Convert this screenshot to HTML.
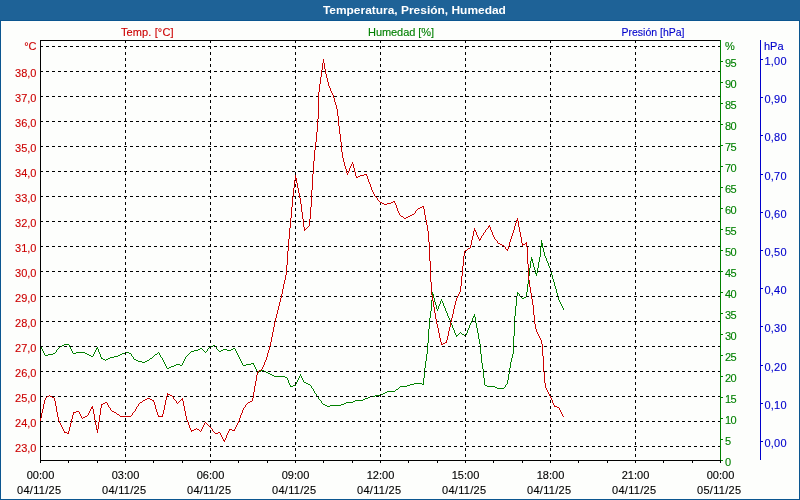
<!DOCTYPE html>
<html lang="es"><head><meta charset="utf-8"><title>Temperatura, Presión, Humedad</title>
<style>
html,body{margin:0;padding:0;background:#fff;}
body{width:800px;height:500px;overflow:hidden;}
svg{display:block;}
text{font-family:"Liberation Sans",Arial,sans-serif;font-size:11px;}
.t{font-weight:bold;fill:#fff;}
.r{fill:#cc0000;stroke:#cc0000}.g{fill:#008000;stroke:#008000}.b{fill:#0000cc;stroke:#0000cc}.k{fill:#000;stroke:#000}
.r,.g,.b,.k{stroke-width:.12px}
.ce{shape-rendering:crispEdges}
</style></head><body>
<svg width="800" height="500" viewBox="0 0 800 500">
<rect x="0" y="0" width="800" height="500" fill="#0b5690"/>
<rect x="0" y="0" width="800" height="20" fill="#1e6297"/>
<rect x="1" y="21" width="798" height="478" fill="#fdfefc"/>
<text class="t" x="414.4" y="14" text-anchor="middle" textLength="183" lengthAdjust="spacingAndGlyphs">Temperatura, Presión, Humedad</text>
<text class="r" x="121" y="36" textLength="52.5">Temp. [°C]</text>
<text class="g" x="368" y="36" textLength="66">Humedad [%]</text>
<text class="b" x="621.5" y="36" textLength="63" lengthAdjust="spacingAndGlyphs">Presión [hPa]</text>

<path class="ce" fill="#008000" d="M41 347h1v2h-1zM42 349h1v2h-1zM43 351h1v2h-1zM44 353h1v2h-1zM56 350h1v2h-1zM69 345h1v2h-1zM70 347h1v2h-1zM71 349h1v2h-1zM72 351h1v2h-1zM93 354h1v2h-1zM94 352h1v2h-1zM95 350h1v2h-1zM96 348h1v2h-1zM97 347h1v2h-1zM98 349h1v3h-1zM99 352h1v2h-1zM100 354h1v3h-1zM101 357h1v2h-1zM131 354h1v2h-1zM133 357h1v2h-1zM159 353h1v2h-1zM160 355h1v2h-1zM162 358h1v2h-1zM163 360h1v2h-1zM164 362h1v2h-1zM165 364h1v2h-1zM166 366h1v2h-1zM182 363h1v2h-1zM183 361h1v2h-1zM184 359h1v2h-1zM185 357h1v2h-1zM207 349h1v2h-1zM216 347h1v2h-1zM235 349h1v2h-1zM236 351h1v2h-1zM237 353h1v2h-1zM238 355h1v2h-1zM239 357h1v2h-1zM240 359h1v2h-1zM241 361h1v2h-1zM242 363h1v2h-1zM253 363h1v2h-1zM254 365h1v2h-1zM255 367h1v2h-1zM256 369h1v2h-1zM257 371h1v2h-1zM287 378h1v2h-1zM288 380h1v3h-1zM289 383h1v2h-1zM290 385h1v2h-1zM295 384h1v2h-1zM296 382h1v2h-1zM297 380h1v2h-1zM298 378h1v2h-1zM299 376h1v2h-1zM300 374h1v2h-1zM301 376h1v2h-1zM302 378h1v2h-1zM303 380h1v2h-1zM311 386h1v2h-1zM313 389h1v2h-1zM314 391h1v2h-1zM316 394h1v2h-1zM318 397h1v2h-1zM321 401h1v2h-1zM423 378h1v7h-1zM424 368h1v10h-1zM425 361h1v7h-1zM426 354h1v7h-1zM427 343h1v11h-1zM428 329h1v14h-1zM429 318h1v11h-1zM430 311h1v7h-1zM431 300h1v11h-1zM432 292h1v8h-1zM433 294h1v4h-1zM434 298h1v4h-1zM435 302h1v3h-1zM436 305h1v4h-1zM437 309h1v2h-1zM438 306h1v3h-1zM439 304h1v2h-1zM440 301h1v3h-1zM441 299h1v2h-1zM442 301h1v2h-1zM443 303h1v3h-1zM444 306h1v2h-1zM445 308h1v3h-1zM446 311h1v2h-1zM447 313h1v3h-1zM448 316h1v2h-1zM449 318h1v2h-1zM450 320h1v3h-1zM451 323h1v2h-1zM452 325h1v3h-1zM453 328h1v2h-1zM454 330h1v3h-1zM455 333h1v2h-1zM456 335h1v2h-1zM465 335h1v2h-1zM466 333h1v2h-1zM467 330h1v3h-1zM468 328h1v2h-1zM469 325h1v3h-1zM470 323h1v2h-1zM471 321h1v2h-1zM472 318h1v3h-1zM473 316h1v2h-1zM474 314h1v3h-1zM475 317h1v6h-1zM476 323h1v5h-1zM477 328h1v5h-1zM478 333h1v6h-1zM479 339h1v5h-1zM480 344h1v10h-1zM481 354h1v9h-1zM482 363h1v6h-1zM483 369h1v9h-1zM484 378h1v7h-1zM505 385h1v2h-1zM507 380h1v4h-1zM508 374h1v6h-1zM509 368h1v6h-1zM510 362h1v6h-1zM511 358h1v4h-1zM512 354h1v4h-1zM513 336h1v18h-1zM514 316h1v20h-1zM515 306h1v10h-1zM516 296h1v10h-1zM517 292h1v4h-1zM519 294h1v2h-1zM526 292h1v5h-1zM527 284h1v8h-1zM528 276h1v8h-1zM529 268h1v8h-1zM530 261h1v7h-1zM531 257h1v4h-1zM532 259h1v4h-1zM533 263h1v4h-1zM534 267h1v3h-1zM535 270h1v4h-1zM536 273h1v3h-1zM537 268h1v5h-1zM538 262h1v6h-1zM539 257h1v5h-1zM540 247h1v10h-1zM541 240h1v7h-1zM542 243h1v5h-1zM543 248h1v4h-1zM544 252h1v4h-1zM545 256h1v2h-1zM546 258h1v3h-1zM547 261h1v2h-1zM548 263h1v3h-1zM549 266h1v2h-1zM550 268h1v3h-1zM551 271h1v4h-1zM552 275h1v4h-1zM553 279h1v3h-1zM554 282h1v4h-1zM555 286h1v3h-1zM556 289h1v4h-1zM557 293h1v4h-1zM558 297h1v3h-1zM559 300h1v2h-1zM560 302h1v2h-1zM561 304h1v2h-1zM562 306h1v2h-1zM563 308h1v2h-1zM518 293h1v1h-1zM520 296h1v1h-1zM521 297h1v1h-1zM524 297h2v1h-2zM522 298h2v1h-2zM460 332h1v1h-1zM459 333h1v1h-1zM461 333h1v1h-1zM458 334h1v1h-1zM462 334h2v1h-2zM457 335h1v1h-1zM464 335h1v1h-1zM64 344h5v1h-5zM62 345h2v1h-2zM213 345h2v1h-2zM40 346h1v1h-1zM60 346h2v1h-2zM210 346h3v1h-3zM215 346h1v1h-1zM59 347h1v1h-1zM209 347h1v1h-1zM58 348h1v1h-1zM200 348h2v1h-2zM208 348h1v1h-1zM233 348h2v1h-2zM57 349h1v1h-1zM198 349h2v1h-2zM202 349h1v1h-1zM217 349h1v1h-1zM223 349h4v1h-4zM231 349h2v1h-2zM194 350h4v1h-4zM203 350h1v1h-1zM218 350h1v1h-1zM221 350h2v1h-2zM227 350h4v1h-4zM191 351h3v1h-3zM204 351h1v1h-1zM206 351h1v1h-1zM219 351h2v1h-2zM55 352h1v1h-1zM76 352h9v1h-9zM125 352h4v1h-4zM158 352h1v1h-1zM190 352h1v1h-1zM205 352h1v1h-1zM53 353h2v1h-2zM73 353h3v1h-3zM85 353h2v1h-2zM122 353h3v1h-3zM129 353h2v1h-2zM157 353h1v1h-1zM189 353h1v1h-1zM48 354h5v1h-5zM87 354h2v1h-2zM120 354h2v1h-2zM155 354h2v1h-2zM188 354h1v1h-1zM45 355h3v1h-3zM89 355h2v1h-2zM118 355h2v1h-2zM154 355h1v1h-1zM187 355h1v1h-1zM91 356h2v1h-2zM114 356h4v1h-4zM132 356h1v1h-1zM153 356h1v1h-1zM186 356h1v1h-1zM110 357h4v1h-4zM152 357h1v1h-1zM161 357h1v1h-1zM102 358h1v1h-1zM108 358h2v1h-2zM150 358h2v1h-2zM103 359h2v1h-2zM106 359h2v1h-2zM134 359h2v1h-2zM149 359h1v1h-1zM105 360h1v1h-1zM136 360h2v1h-2zM147 360h2v1h-2zM138 361h4v1h-4zM145 361h2v1h-2zM142 362h3v1h-3zM251 363h2v1h-2zM176 364h4v1h-4zM246 364h5v1h-5zM174 365h2v1h-2zM180 365h2v1h-2zM243 365h3v1h-3zM171 366h3v1h-3zM169 367h2v1h-2zM167 368h2v1h-2zM261 370h3v1h-3zM259 371h2v1h-2zM264 371h2v1h-2zM258 372h1v1h-1zM266 372h2v1h-2zM268 373h2v1h-2zM270 374h2v1h-2zM272 375h2v1h-2zM274 376h11v1h-11zM285 377h2v1h-2zM304 382h2v1h-2zM306 383h2v1h-2zM414 383h8v1h-8zM308 384h2v1h-2zM410 384h4v1h-4zM422 384h1v1h-1zM506 384h1v1h-1zM293 385h2v1h-2zM310 385h1v1h-1zM407 385h3v1h-3zM485 385h2v1h-2zM291 386h2v1h-2zM400 386h7v1h-7zM487 386h8v1h-8zM399 387h1v1h-1zM495 387h2v1h-2zM504 387h1v1h-1zM312 388h1v1h-1zM398 388h1v1h-1zM497 388h7v1h-7zM396 389h2v1h-2zM395 390h1v1h-1zM387 391h8v1h-8zM385 392h2v1h-2zM315 393h1v1h-1zM383 393h2v1h-2zM380 394h3v1h-3zM375 395h5v1h-5zM317 396h1v1h-1zM370 396h5v1h-5zM368 397h2v1h-2zM365 398h3v1h-3zM319 399h1v1h-1zM363 399h2v1h-2zM320 400h1v1h-1zM355 400h8v1h-8zM353 401h2v1h-2zM346 402h7v1h-7zM322 403h1v1h-1zM344 403h2v1h-2zM323 404h2v1h-2zM341 404h3v1h-3zM325 405h2v1h-2zM330 405h11v1h-11zM327 406h3v1h-3z"/>
<g class="ce" fill="none" stroke="#000" stroke-width="1">
<g stroke-dasharray="3 3">
<line x1="40" y1="46.5" x2="720" y2="46.5"/>
<line x1="40" y1="71.5" x2="720" y2="71.5"/>
<line x1="40" y1="96.5" x2="720" y2="96.5"/>
<line x1="40" y1="121.5" x2="720" y2="121.5"/>
<line x1="40" y1="146.5" x2="720" y2="146.5"/>
<line x1="40" y1="171.5" x2="720" y2="171.5"/>
<line x1="40" y1="196.5" x2="720" y2="196.5"/>
<line x1="40" y1="221.5" x2="720" y2="221.5"/>
<line x1="40" y1="246.5" x2="720" y2="246.5"/>
<line x1="40" y1="271.5" x2="720" y2="271.5"/>
<line x1="40" y1="296.5" x2="720" y2="296.5"/>
<line x1="40" y1="321.5" x2="720" y2="321.5"/>
<line x1="40" y1="346.5" x2="720" y2="346.5"/>
<line x1="40" y1="371.5" x2="720" y2="371.5"/>
<line x1="40" y1="396.5" x2="720" y2="396.5"/>
<line x1="40" y1="421.5" x2="720" y2="421.5"/>
<line x1="40" y1="446.5" x2="720" y2="446.5"/>
<line x1="125.5" y1="40" x2="125.5" y2="460"/>
<line x1="210.5" y1="40" x2="210.5" y2="460"/>
<line x1="295.5" y1="40" x2="295.5" y2="460"/>
<line x1="380.5" y1="40" x2="380.5" y2="460"/>
<line x1="465.5" y1="40" x2="465.5" y2="460"/>
<line x1="550.5" y1="40" x2="550.5" y2="460"/>
<line x1="635.5" y1="40" x2="635.5" y2="460"/>
</g>
<line x1="40" y1="40.5" x2="721" y2="40.5"/>
<line x1="40.5" y1="40" x2="40.5" y2="461"/>
<line x1="40" y1="460.5" x2="721" y2="460.5"/>
<line x1="40.5" y1="461" x2="40.5" y2="463"/>
<line x1="68.5" y1="461" x2="68.5" y2="463"/>
<line x1="97.5" y1="461" x2="97.5" y2="463"/>
<line x1="125.5" y1="461" x2="125.5" y2="463"/>
<line x1="153.5" y1="461" x2="153.5" y2="463"/>
<line x1="182.5" y1="461" x2="182.5" y2="463"/>
<line x1="210.5" y1="461" x2="210.5" y2="463"/>
<line x1="238.5" y1="461" x2="238.5" y2="463"/>
<line x1="267.5" y1="461" x2="267.5" y2="463"/>
<line x1="295.5" y1="461" x2="295.5" y2="463"/>
<line x1="323.5" y1="461" x2="323.5" y2="463"/>
<line x1="352.5" y1="461" x2="352.5" y2="463"/>
<line x1="380.5" y1="461" x2="380.5" y2="463"/>
<line x1="408.5" y1="461" x2="408.5" y2="463"/>
<line x1="437.5" y1="461" x2="437.5" y2="463"/>
<line x1="465.5" y1="461" x2="465.5" y2="463"/>
<line x1="493.5" y1="461" x2="493.5" y2="463"/>
<line x1="522.5" y1="461" x2="522.5" y2="463"/>
<line x1="550.5" y1="461" x2="550.5" y2="463"/>
<line x1="578.5" y1="461" x2="578.5" y2="463"/>
<line x1="607.5" y1="461" x2="607.5" y2="463"/>
<line x1="635.5" y1="461" x2="635.5" y2="463"/>
<line x1="663.5" y1="461" x2="663.5" y2="463"/>
<line x1="692.5" y1="461" x2="692.5" y2="463"/>
<line x1="720.5" y1="461" x2="720.5" y2="463"/>
</g>
<g class="ce" fill="none" stroke="#008000" stroke-width="1">
<line x1="720.5" y1="40" x2="720.5" y2="460"/>
<line x1="721" y1="460.5" x2="723" y2="460.5"/>
<line x1="721" y1="439.5" x2="723" y2="439.5"/>
<line x1="721" y1="418.5" x2="723" y2="418.5"/>
<line x1="721" y1="397.5" x2="723" y2="397.5"/>
<line x1="721" y1="376.5" x2="723" y2="376.5"/>
<line x1="721" y1="355.5" x2="723" y2="355.5"/>
<line x1="721" y1="334.5" x2="723" y2="334.5"/>
<line x1="721" y1="313.5" x2="723" y2="313.5"/>
<line x1="721" y1="292.5" x2="723" y2="292.5"/>
<line x1="721" y1="271.5" x2="723" y2="271.5"/>
<line x1="721" y1="250.5" x2="723" y2="250.5"/>
<line x1="721" y1="229.5" x2="723" y2="229.5"/>
<line x1="721" y1="208.5" x2="723" y2="208.5"/>
<line x1="721" y1="187.5" x2="723" y2="187.5"/>
<line x1="721" y1="166.5" x2="723" y2="166.5"/>
<line x1="721" y1="145.5" x2="723" y2="145.5"/>
<line x1="721" y1="124.5" x2="723" y2="124.5"/>
<line x1="721" y1="103.5" x2="723" y2="103.5"/>
<line x1="721" y1="82.5" x2="723" y2="82.5"/>
<line x1="721" y1="61.5" x2="723" y2="61.5"/>
</g>
<g class="ce" fill="none" stroke="#0000cc" stroke-width="1">
<line x1="760.5" y1="40" x2="760.5" y2="460"/>
<line x1="761" y1="441.5" x2="763" y2="441.5"/>
<line x1="761" y1="403.5" x2="763" y2="403.5"/>
<line x1="761" y1="365.5" x2="763" y2="365.5"/>
<line x1="761" y1="326.5" x2="763" y2="326.5"/>
<line x1="761" y1="288.5" x2="763" y2="288.5"/>
<line x1="761" y1="250.5" x2="763" y2="250.5"/>
<line x1="761" y1="212.5" x2="763" y2="212.5"/>
<line x1="761" y1="174.5" x2="763" y2="174.5"/>
<line x1="761" y1="135.5" x2="763" y2="135.5"/>
<line x1="761" y1="97.5" x2="763" y2="97.5"/>
<line x1="761" y1="59.5" x2="763" y2="59.5"/>
</g>
<path class="ce" fill="#cc0000" d="M40 418h1v3h-1zM41 413h1v5h-1zM42 409h1v4h-1zM43 404h1v5h-1zM44 400h1v4h-1zM45 398h1v2h-1zM54 398h1v3h-1zM55 401h1v5h-1zM56 406h1v6h-1zM57 412h1v5h-1zM58 417h1v4h-1zM59 421h1v2h-1zM60 423h1v2h-1zM61 425h1v2h-1zM62 427h1v2h-1zM63 429h1v2h-1zM64 431h1v2h-1zM68 431h1v3h-1zM69 427h1v4h-1zM70 423h1v4h-1zM71 419h1v4h-1zM72 415h1v4h-1zM73 412h1v3h-1zM79 412h1v2h-1zM80 414h1v2h-1zM81 416h1v2h-1zM88 413h1v2h-1zM89 411h1v2h-1zM90 409h1v2h-1zM91 407h1v2h-1zM92 406h1v3h-1zM93 409h1v5h-1zM94 414h1v6h-1zM95 420h1v5h-1zM96 425h1v5h-1zM97 429h1v4h-1zM98 422h1v7h-1zM99 415h1v7h-1zM100 408h1v7h-1zM101 404h1v4h-1zM107 403h1v2h-1zM108 405h1v2h-1zM110 408h1v2h-1zM132 413h1v2h-1zM135 409h1v2h-1zM136 407h1v2h-1zM138 404h1v2h-1zM153 400h1v2h-1zM154 402h1v3h-1zM155 405h1v4h-1zM156 409h1v3h-1zM157 412h1v3h-1zM158 415h1v2h-1zM162 414h1v3h-1zM163 410h1v4h-1zM164 405h1v5h-1zM165 400h1v5h-1zM166 396h1v4h-1zM167 393h1v3h-1zM173 397h1v2h-1zM176 401h1v2h-1zM182 398h1v3h-1zM183 401h1v5h-1zM184 406h1v5h-1zM185 411h1v5h-1zM186 416h1v4h-1zM187 420h1v2h-1zM188 422h1v3h-1zM189 425h1v3h-1zM190 428h1v2h-1zM191 430h1v2h-1zM201 429h1v2h-1zM202 427h1v2h-1zM203 425h1v2h-1zM204 423h1v2h-1zM212 429h1v2h-1zM220 433h1v2h-1zM221 435h1v2h-1zM222 437h1v2h-1zM223 439h1v2h-1zM224 440h1v2h-1zM225 438h1v2h-1zM226 435h1v3h-1zM227 433h1v2h-1zM228 431h1v2h-1zM229 429h1v2h-1zM234 429h1v2h-1zM235 427h1v2h-1zM236 425h1v2h-1zM237 423h1v2h-1zM238 421h1v2h-1zM239 418h1v3h-1zM240 415h1v3h-1zM241 413h1v2h-1zM242 410h1v3h-1zM243 408h1v2h-1zM245 405h1v2h-1zM252 398h1v3h-1zM253 392h1v6h-1zM254 386h1v6h-1zM255 381h1v5h-1zM256 375h1v6h-1zM257 372h1v3h-1zM262 367h1v2h-1zM263 365h1v2h-1zM264 362h1v3h-1zM265 360h1v2h-1zM266 357h1v3h-1zM267 353h1v4h-1zM268 350h1v3h-1zM269 346h1v4h-1zM270 342h1v4h-1zM271 337h1v5h-1zM272 332h1v5h-1zM273 327h1v5h-1zM274 322h1v5h-1zM275 318h1v4h-1zM276 314h1v4h-1zM277 310h1v4h-1zM278 306h1v4h-1zM279 302h1v4h-1zM280 298h1v4h-1zM281 294h1v4h-1zM282 289h1v5h-1zM283 284h1v5h-1zM284 280h1v4h-1zM285 275h1v5h-1zM286 265h1v10h-1zM287 251h1v14h-1zM288 239h1v12h-1zM289 228h1v11h-1zM290 218h1v10h-1zM291 207h1v11h-1zM292 197h1v10h-1zM293 188h1v9h-1zM294 180h1v8h-1zM295 175h1v5h-1zM296 178h1v5h-1zM297 183h1v5h-1zM298 188h1v5h-1zM299 193h1v5h-1zM300 198h1v6h-1zM301 204h1v8h-1zM302 212h1v7h-1zM303 219h1v8h-1zM304 227h1v4h-1zM309 219h1v7h-1zM310 207h1v12h-1zM311 190h1v17h-1zM312 174h1v16h-1zM313 161h1v13h-1zM314 150h1v11h-1zM315 142h1v8h-1zM316 132h1v10h-1zM317 119h1v13h-1zM318 92h1v27h-1zM319 84h1v8h-1zM320 77h1v7h-1zM321 70h1v7h-1zM322 63h1v7h-1zM323 59h1v4h-1zM324 63h1v6h-1zM325 69h1v5h-1zM326 74h1v4h-1zM327 78h1v4h-1zM328 82h1v4h-1zM329 86h1v2h-1zM330 88h1v3h-1zM331 91h1v2h-1zM332 93h1v2h-1zM333 95h1v3h-1zM334 98h1v4h-1zM335 102h1v3h-1zM336 105h1v4h-1zM337 109h1v7h-1zM338 116h1v10h-1zM339 126h1v8h-1zM340 134h1v8h-1zM341 142h1v10h-1zM342 152h1v6h-1zM343 158h1v4h-1zM344 162h1v4h-1zM345 166h1v3h-1zM346 169h1v4h-1zM347 173h1v2h-1zM348 171h1v2h-1zM349 168h1v3h-1zM350 166h1v2h-1zM351 164h1v2h-1zM352 162h1v2h-1zM353 164h1v4h-1zM354 168h1v4h-1zM355 172h1v4h-1zM356 176h1v2h-1zM366 174h1v2h-1zM367 176h1v3h-1zM368 179h1v3h-1zM369 182h1v2h-1zM370 184h1v3h-1zM371 187h1v3h-1zM372 190h1v2h-1zM373 192h1v2h-1zM374 194h1v2h-1zM377 198h1v2h-1zM394 201h1v2h-1zM395 203h1v2h-1zM396 205h1v3h-1zM397 208h1v3h-1zM398 211h1v2h-1zM399 213h1v2h-1zM415 211h1v2h-1zM423 206h1v3h-1zM424 209h1v6h-1zM425 215h1v5h-1zM426 220h1v5h-1zM427 225h1v6h-1zM428 231h1v11h-1zM429 242h1v19h-1zM430 261h1v21h-1zM431 282h1v13h-1zM432 295h1v6h-1zM433 301h1v6h-1zM434 307h1v6h-1zM435 313h1v6h-1zM436 319h1v5h-1zM437 324h1v4h-1zM438 328h1v5h-1zM439 333h1v5h-1zM440 338h1v4h-1zM441 342h1v3h-1zM446 340h1v3h-1zM447 336h1v4h-1zM448 331h1v5h-1zM449 327h1v4h-1zM450 322h1v5h-1zM451 318h1v4h-1zM452 314h1v4h-1zM453 309h1v5h-1zM454 305h1v4h-1zM455 301h1v4h-1zM456 298h1v3h-1zM457 296h1v2h-1zM458 294h1v2h-1zM459 292h1v2h-1zM460 286h1v6h-1zM461 276h1v10h-1zM462 266h1v10h-1zM463 256h1v10h-1zM464 251h1v5h-1zM470 245h1v3h-1zM471 240h1v5h-1zM472 236h1v4h-1zM473 231h1v5h-1zM474 228h1v3h-1zM475 230h1v2h-1zM476 232h1v3h-1zM477 235h1v2h-1zM478 237h1v2h-1zM479 239h1v2h-1zM480 238h1v2h-1zM481 236h1v2h-1zM483 233h1v2h-1zM485 230h1v2h-1zM488 226h1v2h-1zM489 225h1v2h-1zM490 227h1v3h-1zM491 230h1v2h-1zM492 232h1v3h-1zM493 235h1v2h-1zM494 237h1v2h-1zM497 241h1v2h-1zM505 247h1v2h-1zM507 249h1v2h-1zM508 246h1v3h-1zM509 242h1v4h-1zM510 239h1v3h-1zM511 236h1v3h-1zM512 233h1v3h-1zM513 230h1v3h-1zM514 226h1v4h-1zM515 223h1v3h-1zM516 220h1v3h-1zM517 218h1v3h-1zM518 221h1v6h-1zM519 227h1v5h-1zM520 232h1v5h-1zM521 237h1v6h-1zM522 243h1v3h-1zM526 242h1v5h-1zM527 247h1v17h-1zM528 264h1v16h-1zM529 280h1v7h-1zM530 287h1v6h-1zM531 293h1v6h-1zM532 299h1v6h-1zM533 305h1v10h-1zM534 315h1v9h-1zM535 324h1v5h-1zM536 329h1v3h-1zM537 332h1v2h-1zM538 334h1v2h-1zM539 336h1v2h-1zM540 338h1v2h-1zM541 340h1v4h-1zM542 344h1v12h-1zM543 356h1v16h-1zM544 372h1v11h-1zM545 383h1v5h-1zM546 388h1v2h-1zM547 390h1v2h-1zM548 392h1v2h-1zM549 394h1v2h-1zM550 396h1v2h-1zM551 398h1v2h-1zM552 400h1v3h-1zM553 403h1v2h-1zM554 405h1v2h-1zM559 408h1v2h-1zM560 410h1v2h-1zM561 412h1v2h-1zM562 414h1v2h-1zM364 174h2v1h-2zM360 175h4v1h-4zM358 176h2v1h-2zM357 177h1v1h-1zM375 196h1v1h-1zM376 197h1v1h-1zM378 200h1v1h-1zM379 201h1v1h-1zM393 201h1v1h-1zM380 202h2v1h-2zM391 202h2v1h-2zM382 203h2v1h-2zM387 203h4v1h-4zM384 204h3v1h-3zM422 206h1v1h-1zM420 207h2v1h-2zM418 208h2v1h-2zM417 209h1v1h-1zM416 210h1v1h-1zM414 213h1v1h-1zM412 214h2v1h-2zM400 215h1v1h-1zM410 215h2v1h-2zM401 216h2v1h-2zM408 216h2v1h-2zM403 217h1v1h-1zM406 217h2v1h-2zM404 218h2v1h-2zM308 226h1v1h-1zM307 227h1v1h-1zM306 228h1v1h-1zM487 228h1v1h-1zM305 229h1v1h-1zM486 229h1v1h-1zM484 232h1v1h-1zM482 235h1v1h-1zM495 239h1v1h-1zM496 240h1v1h-1zM498 243h2v1h-2zM525 243h1v1h-1zM500 244h2v1h-2zM523 244h2v1h-2zM502 245h2v1h-2zM504 246h1v1h-1zM468 248h2v1h-2zM467 249h1v1h-1zM506 249h1v1h-1zM465 250h2v1h-2zM445 342h1v1h-1zM443 343h2v1h-2zM442 344h1v1h-1zM261 369h1v1h-1zM259 370h2v1h-2zM258 371h1v1h-1zM168 394h2v1h-2zM49 395h1v1h-1zM170 395h2v1h-2zM47 396h2v1h-2zM50 396h2v1h-2zM172 396h1v1h-1zM46 397h1v1h-1zM52 397h2v1h-2zM147 398h3v1h-3zM145 399h2v1h-2zM150 399h2v1h-2zM174 399h1v1h-1zM181 399h1v1h-1zM143 400h2v1h-2zM152 400h1v1h-1zM175 400h1v1h-1zM180 400h1v1h-1zM142 401h1v1h-1zM179 401h1v1h-1zM250 401h2v1h-2zM105 402h2v1h-2zM140 402h2v1h-2zM178 402h1v1h-1zM248 402h2v1h-2zM103 403h2v1h-2zM139 403h1v1h-1zM177 403h1v1h-1zM247 403h1v1h-1zM102 404h1v1h-1zM246 404h1v1h-1zM137 406h1v1h-1zM555 406h2v1h-2zM109 407h1v1h-1zM244 407h1v1h-1zM557 407h2v1h-2zM111 410h1v1h-1zM76 411h3v1h-3zM112 411h2v1h-2zM134 411h1v1h-1zM74 412h2v1h-2zM114 412h2v1h-2zM133 412h1v1h-1zM116 413h1v1h-1zM117 414h2v1h-2zM87 415h1v1h-1zM119 415h1v1h-1zM131 415h1v1h-1zM85 416h2v1h-2zM120 416h11v1h-11zM159 416h3v1h-3zM563 416h1v1h-1zM83 417h2v1h-2zM82 418h1v1h-1zM205 422h1v1h-1zM206 423h1v1h-1zM207 424h1v1h-1zM208 425h1v1h-1zM209 426h1v1h-1zM210 427h1v1h-1zM196 428h1v1h-1zM211 428h1v1h-1zM194 429h2v1h-2zM197 429h2v1h-2zM230 429h2v1h-2zM192 430h2v1h-2zM199 430h1v1h-1zM232 430h2v1h-2zM200 431h1v1h-1zM213 431h1v1h-1zM65 432h2v1h-2zM214 432h1v1h-1zM218 432h2v1h-2zM67 433h1v1h-1zM215 433h3v1h-3z"/>
<g class="r" text-anchor="end">
<text x="36.5" y="50">°C</text>
<text x="36.5" y="77">38,0</text>
<text x="36.5" y="102">37,0</text>
<text x="36.5" y="127">36,0</text>
<text x="36.5" y="152">35,0</text>
<text x="36.5" y="177">34,0</text>
<text x="36.5" y="202">33,0</text>
<text x="36.5" y="227">32,0</text>
<text x="36.5" y="252">31,0</text>
<text x="36.5" y="277">30,0</text>
<text x="36.5" y="302">29,0</text>
<text x="36.5" y="327">28,0</text>
<text x="36.5" y="352">27,0</text>
<text x="36.5" y="377">26,0</text>
<text x="36.5" y="402">25,0</text>
<text x="36.5" y="427">24,0</text>
<text x="36.5" y="452">23,0</text>
</g>
<g class="g">
<text x="725" y="50">%</text>
<text x="725" y="466">0</text>
<text x="725" y="445">5</text>
<text x="725" y="424" textLength="11.7">10</text>
<text x="725" y="403" textLength="11.7">15</text>
<text x="725" y="382" textLength="11.7">20</text>
<text x="725" y="361" textLength="11.7">25</text>
<text x="725" y="340" textLength="11.7">30</text>
<text x="725" y="319" textLength="11.7">35</text>
<text x="725" y="298" textLength="11.7">40</text>
<text x="725" y="277" textLength="11.7">45</text>
<text x="725" y="256" textLength="11.7">50</text>
<text x="725" y="235" textLength="11.7">55</text>
<text x="725" y="214" textLength="11.7">60</text>
<text x="725" y="193" textLength="11.7">65</text>
<text x="725" y="172" textLength="11.7">70</text>
<text x="725" y="151" textLength="11.7">75</text>
<text x="725" y="130" textLength="11.7">80</text>
<text x="725" y="109" textLength="11.7">85</text>
<text x="725" y="88" textLength="11.7">90</text>
<text x="725" y="67" textLength="11.7">95</text>
</g>
<g class="b">
<text x="764" y="50">hPa</text>
<text x="764.5" y="447" textLength="22">0,00</text>
<text x="764.5" y="409" textLength="22">0,10</text>
<text x="764.5" y="371" textLength="22">0,20</text>
<text x="764.5" y="332" textLength="22">0,30</text>
<text x="764.5" y="294" textLength="22">0,40</text>
<text x="764.5" y="256" textLength="22">0,50</text>
<text x="764.5" y="218" textLength="22">0,60</text>
<text x="764.5" y="180" textLength="22">0,70</text>
<text x="764.5" y="141" textLength="22">0,80</text>
<text x="764.5" y="103" textLength="22">0,90</text>
<text x="764.5" y="65" textLength="22">1,00</text>
</g>
<g class="k" text-anchor="middle">
<text x="40.5" y="479" textLength="27.5">00:00</text>
<text x="39" y="494" textLength="44">04/11/25</text>
<text x="125.5" y="479" textLength="27.5">03:00</text>
<text x="124" y="494" textLength="44">04/11/25</text>
<text x="210.5" y="479" textLength="27.5">06:00</text>
<text x="209" y="494" textLength="44">04/11/25</text>
<text x="295.5" y="479" textLength="27.5">09:00</text>
<text x="294" y="494" textLength="44">04/11/25</text>
<text x="380.5" y="479" textLength="27.5">12:00</text>
<text x="379" y="494" textLength="44">04/11/25</text>
<text x="465.5" y="479" textLength="27.5">15:00</text>
<text x="464" y="494" textLength="44">04/11/25</text>
<text x="550.5" y="479" textLength="27.5">18:00</text>
<text x="549" y="494" textLength="44">04/11/25</text>
<text x="635.5" y="479" textLength="27.5">21:00</text>
<text x="634" y="494" textLength="44">04/11/25</text>
<text x="720.5" y="479" textLength="27.5">00:00</text>
<text x="719" y="494" textLength="44">05/11/25</text>
</g>
</svg></body></html>
